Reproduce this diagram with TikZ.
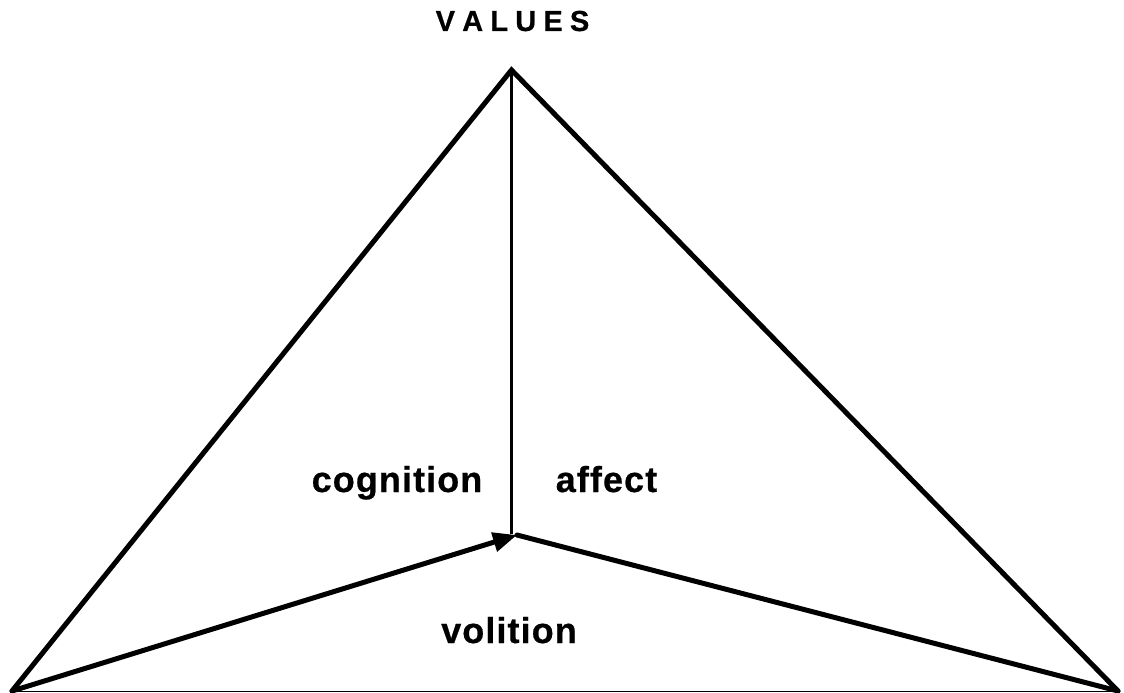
\documentclass[tikz,border=0pt]{standalone}
\usepackage{fontspec}
\setmainfont{Liberation Sans}
\newfontfamily\heavyfont[FakeBold=0.6,LetterSpace=3]{Liberation Sans}
\newfontfamily\titlefont[FakeBold=0.6]{Liberation Sans}
\usetikzlibrary{arrows.meta}
\newcommand{\vsp}{\hspace{7.2pt}}
\begin{document}
\begin{tikzpicture}[x=1pt,y=-1pt,
  edge/.style={line width=5pt,line join=miter,line cap=round},
  lbl/.style={font=\heavyfont\bfseries\fontsize{36}{40}\selectfont,inner sep=0pt,anchor=base},
  ttl/.style={font=\titlefont\bfseries\fontsize{29}{32}\selectfont,inner sep=0pt,anchor=base}]
\useasboundingbox[fill=white] (0,0) rectangle (1124,693);
\coordinate (A) at (511.5,70);
\coordinate (L) at (12,691);
\coordinate (R) at (1118,691);
\coordinate (C) at (517,535);
\coordinate (V) at (511.5,534);
\draw[line width=1pt] (L) -- (R);
\draw[edge] (L) -- (A) -- (R);
\draw[edge,-{Triangle[length=24pt,width=19pt]}] (L) -- (C);
\draw[edge] (C) -- (R);
\draw[line width=2.6pt] (A) -- (V);
\node[ttl] (values) at (512.5,31) {V\vsp A\vsp L\vsp U\vsp E\vsp S};
\node[lbl] (cog) at (397,492) {cognition};
\node[lbl] (aff) at (606.5,492) {affect};
\node[lbl] (vol) at (509,643) {volition};
\end{tikzpicture}
\end{document}
